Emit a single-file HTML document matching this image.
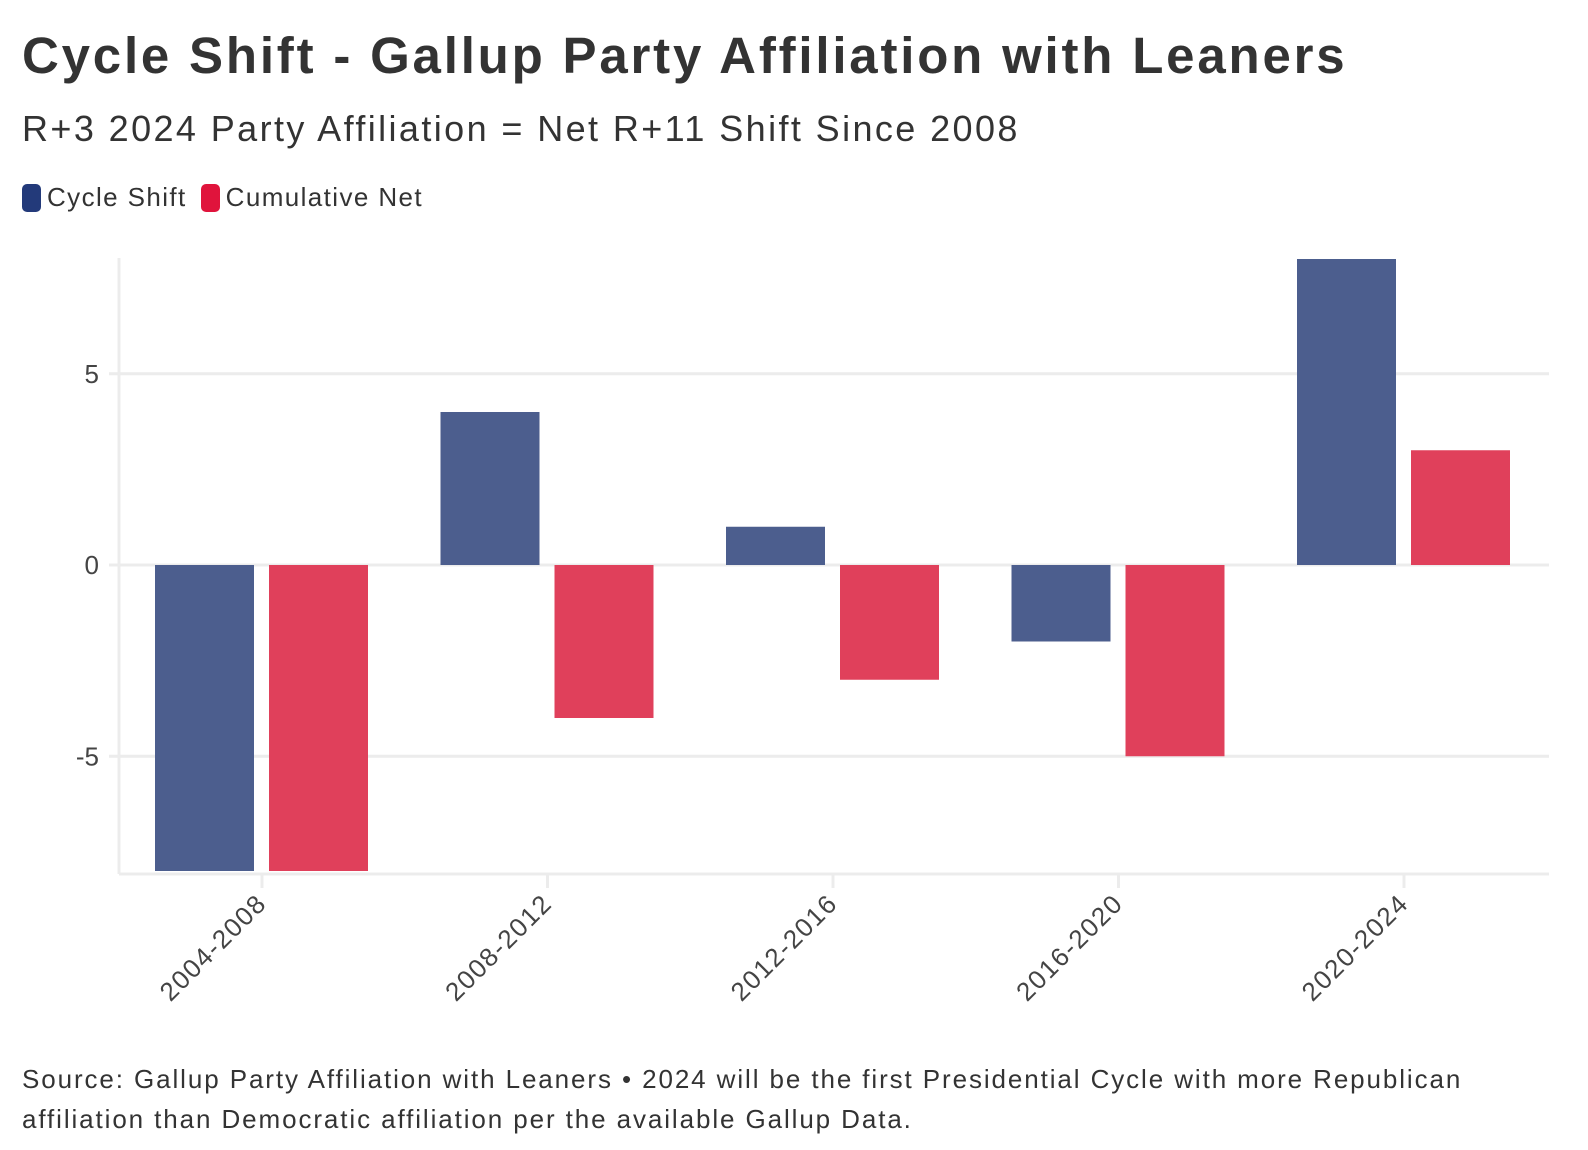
<!DOCTYPE html>
<html><head><meta charset="utf-8"><style>
body{margin:0;width:1588px;height:1150px;background:#fff;font-family:"Liberation Sans",sans-serif;color:#333;overflow:hidden;position:relative}
.t{position:absolute;left:22px;white-space:nowrap}
</style></head><body>
<div class="t" style="top:26px;font-size:51px;letter-spacing:2.8px;font-weight:bold;color:#333">Cycle Shift - Gallup Party Affiliation with Leaners</div>
<div class="t" style="top:108px;font-size:36px;letter-spacing:2.4px;color:#333">R+3 2024 Party Affiliation = Net R+11 Shift Since 2008</div>
<div class="t" style="top:182px;font-size:26px;letter-spacing:1.4px;display:flex;align-items:center">
<span style="display:flex;align-items:center"><span style="display:inline-block;width:19px;height:28px;border-radius:5px;background:#233a7a;margin-right:6px"></span>Cycle Shift</span>
<span style="display:flex;align-items:center;margin-left:14px"><span style="display:inline-block;width:19px;height:28px;border-radius:5px;background:#e0143c;margin-right:6px"></span>Cumulative Net</span>
</div>
<svg id="chart" width="1588" height="1040" style="position:absolute;left:0;top:0"></svg>
<div class="t" style="top:1059px;font-size:26px;letter-spacing:1.9px;line-height:40px;color:#333">Source: Gallup Party Affiliation with Leaners • 2024 will be the first Presidential Cycle with more Republican<br>affiliation than Democratic affiliation per the available Gallup Data.</div>
<script>
const categories=["2004-2008","2008-2012","2012-2016","2016-2020","2020-2024"];
const cycleShift=[-8,4,1,-2,8];
const cumulativeNet=[-8,-4,-3,-5,3];
const yTicks=[-5,0,5];
const svg=document.getElementById('chart');
const NS='http://www.w3.org/2000/svg';
const yMin=-8,yMax=8,plotTop=259,plotBottom=871;
const y=v=>plotTop+(yMax-v)/(yMax-yMin)*(plotBottom-plotTop);
const x0=262,step=285.5;
const xc=i=>x0+i*step;
function mk(t,a){const e=document.createElementNS(NS,t);for(const k in a)e.setAttribute(k,a[k]);svg.appendChild(e);return e;}
const left=119,right=1549,axisY=874;
yTicks.forEach(v=>{
  const g=mk('line',{x1:left-10,x2:right,y1:y(v),y2:y(v),stroke:'#ececec','stroke-width':3});
  
  
  const t=mk('text',{x:left-20,y:y(v)+9,'text-anchor':'end','font-size':26,fill:'#444','font-family':'Liberation Sans'});
  t.textContent=v;
  
  
});
const ya=mk('line',{x1:left,x2:left,y1:258,y2:axisY,stroke:'#ececec','stroke-width':3});


const xa=mk('line',{x1:left,x2:right,y1:axisY,y2:axisY,stroke:'#ececec','stroke-width':3});


const bw=99,gap=8;
categories.forEach((c,i)=>{
  const cx=xc(i);
  [[cycleShift[i],'#4c5e8e',cx-gap-bw,'bar-cycle-shift'],[cumulativeNet[i],'#e0405b',cx+gap-1,'bar-cumulative-net']].forEach(([v,col,bx,nm])=>{
    const y0=y(0),yv=y(v);
    const r=mk('rect',{x:bx,y:Math.min(y0,yv),width:bw,height:Math.abs(yv-y0),fill:col});
    
    
  });
  const tk=mk('line',{x1:cx,x2:cx,y1:axisY,y2:axisY+14,stroke:'#ececec','stroke-width':3});
  
  
  const t=mk('text',{x:0,y:0,'text-anchor':'end','font-size':26,'letter-spacing':1.5,fill:'#444','font-family':'Liberation Sans',transform:`translate(${cx+6},${905}) rotate(-45)`});
  t.textContent=c;
  
  
});
</script>
</body></html>
